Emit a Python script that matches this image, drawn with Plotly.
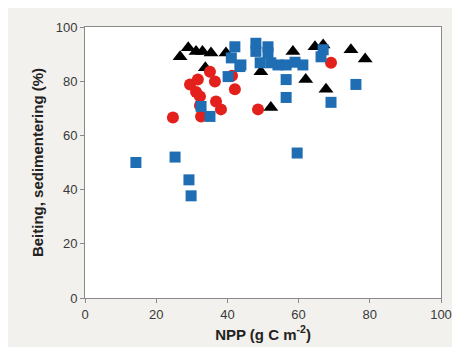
import plotly.graph_objects as go

# Black triangles series
tri_x = [26.7, 29.0, 31.2, 33.0, 35.4, 39.6, 33.8, 49.4, 52.2, 58.4, 62.0, 64.6, 66.9, 67.7, 74.7, 78.7]
tri_y = [89.0, 92.3, 91.0, 91.0, 90.4, 90.4, 85.0, 83.5, 70.3, 91.0, 80.6, 92.7, 93.4, 77.0, 91.6, 88.2]

# Red circles series
red_x = [24.7, 29.5, 31.7, 31.2, 32.3, 35.1, 36.5, 36.8, 38.2, 32.6, 42.1, 41.3, 48.6, 69.1, 32.3]
red_y = [66.6, 78.8, 80.6, 76.0, 74.4, 83.5, 79.9, 72.5, 69.6, 67.0, 77.0, 82.0, 69.6, 86.8, 71.0]

# Blue squares series
blue_x = [14.3, 25.3, 29.2, 29.8, 59.6, 42.1, 41.1, 43.5, 40.2, 48.0, 48.0, 51.4, 51.4, 49.2,
          54.2, 56.5, 59.0, 61.2, 56.5, 56.5, 66.9, 66.3, 76.1, 69.1, 32.6, 35.1, 43.8, 52.2]
blue_y = [50.0, 52.0, 43.6, 37.7, 53.5, 92.7, 88.6, 85.4, 81.7, 94.0, 91.0, 92.7, 90.5, 86.8,
          86.0, 86.0, 87.0, 86.0, 80.6, 74.0, 91.6, 89.0, 78.8, 72.2, 70.7, 67.0, 86.0, 86.8]

x_ticks = [0, 20, 40, 60, 80, 100]
y_ticks = [0, 20, 40, 60, 80, 100]

fig = go.Figure()
fig.add_trace(go.Scatter(x=tri_x, y=tri_y, mode="markers",
                         marker=dict(symbol="triangle-up", size=13, color="#000000")))
fig.add_trace(go.Scatter(x=red_x, y=red_y, mode="markers",
                         marker=dict(symbol="circle", size=12, color="#e3201b")))
fig.add_trace(go.Scatter(x=blue_x, y=blue_y, mode="markers",
                         marker=dict(symbol="square", size=11, color="#1f6db3")))

axis_font = dict(family="Liberation Sans, Arial, sans-serif", size=13, color="#3a3a3a")
fig.update_layout(
    width=460, height=347,
    margin=dict(l=77, r=27, t=17, b=57),
    paper_bgcolor="#f2f1ed",
    plot_bgcolor="#ffffff",
    showlegend=False,
    xaxis=dict(range=[0, 100], tickvals=x_ticks, ticks="outside", ticklen=4,
               tickcolor="#888888", showgrid=False, zeroline=False,
               showline=True, linecolor="#8a8a8a", linewidth=1, mirror=True,
               tickfont=axis_font,
               title=dict(text="<b>NPP (g C m<sup>-2</sup>)</b>", standoff=8,
                          font=dict(family="Liberation Sans, Arial, sans-serif", size=15, color="#222222"))),
    yaxis=dict(range=[0, 100], tickvals=y_ticks, ticks="outside", ticklen=4,
               tickcolor="#888888", showgrid=False, zeroline=False,
               showline=True, linecolor="#8a8a8a", linewidth=1, mirror=True,
               tickfont=axis_font,
               title=dict(text="<b>Beiting, sedimentering (%)</b>", standoff=8,
                          font=dict(family="Liberation Sans, Arial, sans-serif", size=15, color="#222222"))),
)

fig.write_html("out.html")
